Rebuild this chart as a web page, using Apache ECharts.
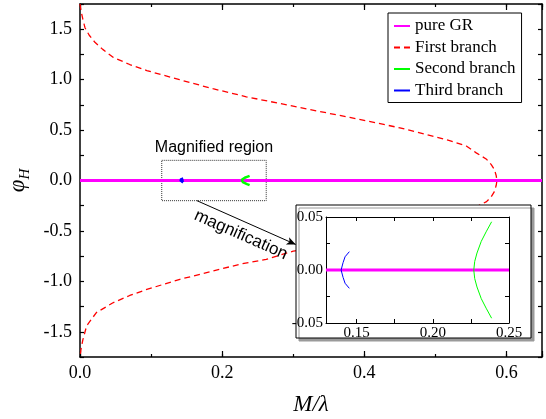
<!DOCTYPE html>
<html><head><meta charset="utf-8">
<script src="https://cdn.jsdelivr.net/npm/echarts@6/dist/echarts.min.js"></script>
<style>html,body{margin:0;padding:0;background:#fff}#c{width:546px;height:419px}</style>
</head><body><div id="c"></div>
<script>
// ---- data ----
const seriesNames = ['pure GR', 'First branch', 'Second branch', 'Third branch'];
const pureGR = [[0, 0], [0.65, 0]];
const pureGRInset = [[0.13, 0], [0.25, 0]];
const firstBranch = [
  [0, 1.75], [0.0015, 1.68], [0.004, 1.60], [0.007, 1.515], [0.013, 1.44], [0.021, 1.37],
  [0.032, 1.30], [0.047, 1.22], [0.07, 1.15], [0.094, 1.09], [0.14, 1.00], [0.187, 0.91],
  [0.234, 0.83], [0.28, 0.765], [0.319, 0.71], [0.3795, 0.625], [0.415, 0.574], [0.45, 0.522],
  [0.496, 0.44], [0.52, 0.396], [0.544, 0.34], [0.5575, 0.274], [0.572, 0.21], [0.5786, 0.158],
  [0.583, 0.11], [0.5855, 0.05], [0.5866, 0],
  [0.5855, -0.05], [0.583, -0.11], [0.5786, -0.16], [0.572, -0.21], [0.5575, -0.26],
  [0.544, -0.32], [0.52, -0.38], [0.496, -0.43], [0.45, -0.51], [0.415, -0.56], [0.3795, -0.61],
  [0.34, -0.655], [0.30, -0.70], [0.262, -0.782], [0.225, -0.83], [0.187, -0.898], [0.1405, -0.98],
  [0.094, -1.08], [0.07, -1.14], [0.047, -1.21], [0.023, -1.31], [0.0094, -1.44], [0.004, -1.58],
  [0.0015, -1.67], [0, -1.75]
];
const secondBranch = [
  [0.2386, 0.0455], [0.2350, 0.036], [0.2318, 0.027], [0.2290, 0.016], [0.2275, 0.008], [0.2269, 0],
  [0.2275, -0.008], [0.2290, -0.016], [0.2318, -0.027], [0.2350, -0.036], [0.2386, -0.0455]
];
const thirdBranch = [
  [0.1453, 0.0173], [0.1425, 0.0125], [0.1412, 0.007], [0.1399, 0],
  [0.1412, -0.007], [0.1425, -0.0125], [0.1453, -0.0173]
];
const xTickLabels = ['0.0', '0.2', '0.4', '0.6'];
const yTickLabels = ['-1.5', '-1.0', '-0.5', '0.0', '0.5', '1.0', '1.5'];
const insetXTickLabels = ['0.15', '0.20', '0.25'];
const insetYTickLabels = ['-0.05', '0.00', '0.05'];

// ---- chart ----
const SERIF = 'Liberation Serif';
const SANS = 'Liberation Sans';
const colors = ['#FF00FF', '#FF0000', '#00FF00', '#0000FF'];
const fmtIn = (list, dec) => v => { const s = (+v).toFixed(dec); return list.indexOf(s) >= 0 ? '{s|' + s + '}' : ''; };
const axisLineStyle = { color: '#000', width: 1.5 };
const lineOff = (extra) => Object.assign({ onZero: false }, extra);

const chart = echarts.init(document.getElementById('c'), null, { renderer: 'canvas' });
const mainGrid = { left: 80, top: 4, right: 4, bottom: 62, outerBoundsMode: 'none', containLabel: false };
const serifLabel = (size, margin, fmt) => ({ formatter: fmt, fontFamily: SERIF, fontSize: size, color: '#000', margin: margin,
  rich: { s: { fontFamily: SERIF, fontSize: size, color: '#000' } } });
const option = {
  animation: false,
  backgroundColor: '#fff',
  textStyle: { fontFamily: SERIF, color: '#000' },
  grid: [
    Object.assign({}, mainGrid),
    { left: 326, top: 217, width: 183, height: 106, z: 12, outerBoundsMode: 'none', containLabel: false },
    Object.assign({}, mainGrid)
  ],
  legend: {
    data: seriesNames, orient: 'vertical', left: 388, top: 13,
    padding: [4, 6, 3, 5], itemGap: 3.5, itemWidth: 16, itemHeight: 10,
    borderColor: '#000', borderWidth: 1, borderRadius: 0, backgroundColor: '#fff',
    selectedMode: false, z: 20,
    itemStyle: { opacity: 0, borderWidth: 0 },
    textStyle: { fontFamily: SERIF, fontSize: 17, color: '#000', lineHeight: 18 }
  },
  xAxis: [
    { gridIndex: 0, type: 'value', position: 'bottom', min: 0, max: 0.65, interval: 0.2,
      axisLine: lineOff({ lineStyle: axisLineStyle }), axisTick: { inside: true, length: 6, lineStyle: { color: '#000', width: 1.2 } },
      axisLabel: serifLabel(18, 7, fmtIn(xTickLabels, 1)),
      splitLine: { show: false },
      name: 'M/λ', nameLocation: 'middle', nameGap: 36,
      nameTextStyle: { fontFamily: SERIF, fontStyle: 'italic', fontSize: 23, color: '#000' } },
    { gridIndex: 0, type: 'value', position: 'top', min: 0, max: 0.65, interval: 0.2,
      axisLine: lineOff({ lineStyle: axisLineStyle }), axisTick: { inside: true, length: 6, lineStyle: { color: '#000', width: 1.2 } },
      axisLabel: { show: false }, splitLine: { show: false } },
    { gridIndex: 1, type: 'value', position: 'bottom', min: 0.13, max: 0.25, z: 12,
      axisLine: lineOff({ lineStyle: { color: '#000', width: 1 } }),
      axisTick: { inside: true, length: 4, customValues: [0.15, 0.175, 0.2, 0.225, 0.25], lineStyle: { color: '#000' } },
      axisLabel: Object.assign(serifLabel(15, 3, fmtIn(insetXTickLabels, 2)), { customValues: [0.15, 0.2, 0.25] }),
      splitLine: { show: false } },
    { gridIndex: 1, type: 'value', position: 'top', min: 0.13, max: 0.25, z: 12,
      axisLine: lineOff({ lineStyle: { color: '#000', width: 1 } }),
      axisTick: { inside: true, length: 4, customValues: [0.15, 0.175, 0.2, 0.225, 0.25], lineStyle: { color: '#000' } },
      axisLabel: { show: false }, splitLine: { show: false } },
    { gridIndex: 2, type: 'value', position: 'bottom', min: 0, max: 0.65, interval: 0.1,
      axisLine: lineOff({ show: false }), axisTick: { inside: true, length: 3, lineStyle: { color: '#000', width: 1.2 } },
      axisLabel: { show: false }, splitLine: { show: false } },
    { gridIndex: 2, type: 'value', position: 'top', min: 0, max: 0.65, interval: 0.1,
      axisLine: lineOff({ show: false }), axisTick: { inside: true, length: 3, lineStyle: { color: '#000', width: 1.2 } },
      axisLabel: { show: false }, splitLine: { show: false } }
  ],
  yAxis: [
    { gridIndex: 0, type: 'value', position: 'left', min: -1.75, max: 1.75, interval: 0.25,
      axisLine: lineOff({ lineStyle: axisLineStyle }), axisTick: { inside: true, length: 4, lineStyle: { color: '#000', width: 1.2 } },
      axisLabel: serifLabel(18, 8, fmtIn(yTickLabels, 1)),
      splitLine: { show: false },
      name: '{a|φ}{b|H}', nameLocation: 'middle', nameGap: 39,
      nameTextStyle: { color: '#000', rich: {
        a: { fontFamily: SERIF, fontStyle: 'italic', fontSize: 23, lineHeight: 26, verticalAlign: 'top', color: '#000' },
        b: { fontFamily: SERIF, fontStyle: 'italic', fontSize: 15, lineHeight: 10, verticalAlign: 'bottom', color: '#000' } } } },
    { gridIndex: 0, type: 'value', position: 'right', min: -1.75, max: 1.75, interval: 0.25,
      axisLine: lineOff({ lineStyle: axisLineStyle }), axisTick: { inside: true, length: 4, lineStyle: { color: '#000', width: 1.2 } },
      axisLabel: { show: false }, splitLine: { show: false } },
    { gridIndex: 1, type: 'value', position: 'left', min: -0.05, max: 0.05, interval: 0.025, z: 12,
      axisLine: lineOff({ lineStyle: { color: '#000', width: 1 } }),
      axisTick: { inside: true, length: 4, lineStyle: { color: '#000' } },
      axisLabel: serifLabel(15, 3, fmtIn(insetYTickLabels, 2)),
      splitLine: { show: false } },
    { gridIndex: 1, type: 'value', position: 'right', min: -0.05, max: 0.05, interval: 0.025, z: 12,
      axisLine: lineOff({ lineStyle: { color: '#000', width: 1 } }),
      axisTick: { inside: true, length: 4, lineStyle: { color: '#000' } },
      axisLabel: { show: false }, splitLine: { show: false } },
    { gridIndex: 2, type: 'value', show: false, min: -1.75, max: 1.75 }
  ],
  graphic: [{
    type: 'rect', z: 10, silent: true,
    shape: { x: 296, y: 205, width: 235, height: 133 },
    style: { fill: '#fff', stroke: '#000', lineWidth: 1, shadowColor: '#9a9a9a', shadowOffsetX: 3, shadowOffsetY: 3, shadowBlur: 0 }
  }],
  series: [
    { name: seriesNames[0], type: 'line', xAxisIndex: 0, yAxisIndex: 0, data: pureGR, symbol: 'none', z: 3,
      lineStyle: { color: colors[0], width: 3 }, itemStyle: { color: colors[0] },
      markArea: { silent: true, itemStyle: { color: 'rgba(0,0,0,0)', borderColor: '#333', borderWidth: 1, borderType: 'dotted' },
        label: { show: true, position: 'top', formatter: 'Magnified region', fontFamily: SANS, fontSize: 16, color: '#000', distance: 4 },
        data: [[{ coord: [0.115, 0.2] }, { coord: [0.262, -0.2] }]] },
      markLine: { silent: true, symbol: ['none', 'arrow'], symbolSize: [6, 9],
        lineStyle: { color: '#000', width: 1, type: 'solid' },
        label: { show: true, position: 'insideMiddleBottom', formatter: 'magnification', fontFamily: SANS, fontSize: 17, color: '#000', distance: 5 },
        data: [[{ coord: [0.1645, -0.2] }, { coord: [0.3035, -0.634] }]] } },
    { name: seriesNames[1], type: 'line', xAxisIndex: 0, yAxisIndex: 0, data: firstBranch, symbol: 'none', z: 2,
      lineStyle: { color: colors[1], width: 1.3, type: [6, 4] }, itemStyle: { color: colors[1] } },
    { name: seriesNames[2], type: 'line', xAxisIndex: 0, yAxisIndex: 0, data: secondBranch, symbol: 'none', z: 4,
      lineStyle: { color: colors[2], width: 2.5 }, itemStyle: { color: colors[2] } },
    { name: seriesNames[3], type: 'line', xAxisIndex: 0, yAxisIndex: 0, data: thirdBranch, symbol: 'none', z: 4,
      lineStyle: { color: colors[3], width: 3 }, itemStyle: { color: colors[3] } },
    { name: seriesNames[0], type: 'line', xAxisIndex: 2, yAxisIndex: 2, data: pureGRInset, symbol: 'none', z: 13,
      lineStyle: { color: colors[0], width: 3 }, itemStyle: { color: colors[0] } },
    { name: seriesNames[2], type: 'line', xAxisIndex: 2, yAxisIndex: 2, data: secondBranch, symbol: 'none', z: 13,
      lineStyle: { color: colors[2], width: 1 }, itemStyle: { color: colors[2] } },
    { name: seriesNames[3], type: 'line', xAxisIndex: 2, yAxisIndex: 2, data: thirdBranch, symbol: 'none', z: 13,
      lineStyle: { color: colors[3], width: 1 }, itemStyle: { color: colors[3] } }
  ]
};
chart.setOption(option);
</script>
</body></html>
